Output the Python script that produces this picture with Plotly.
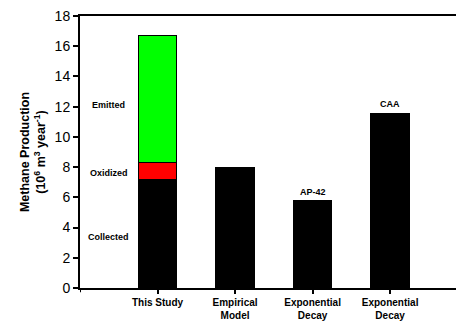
import plotly.graph_objects as go

# Methane production estimates (10^6 m^3 per year)
categories = ["This Study", "Empirical<br>Model", "Exponential<br>Decay<br>Model", "Exponential<br>Decay<br>Model"]
cat_pos = [1, 2, 3, 4]

study_collected = 7.15
study_oxidized = 1.14
study_emitted = 8.41

model_pos = [2, 3, 4]
model_values = [8.0, 5.76, 11.56]
model_labels = ["", "AP-42", "CAA"]

FONT = "Arial, Liberation Sans, sans-serif"
outline = dict(color="black", width=1)

fig = go.Figure()
fig.add_trace(go.Bar(x=[1], y=[study_collected], marker=dict(color="black", line=outline), width=0.5))
fig.add_trace(go.Bar(x=[1], y=[study_oxidized], marker=dict(color="#ff0000", line=outline), width=0.5))
fig.add_trace(go.Bar(x=[1], y=[study_emitted], marker=dict(color="#00ff00", line=outline), width=0.5))
fig.add_trace(go.Bar(x=model_pos, y=model_values, marker=dict(color="black", line=outline), width=0.5))

# component labels to the left of the stacked bar
for txt, yv in [("Emitted", 12.1), ("Oxidized", 7.6), ("Collected", 3.37)]:
    fig.add_annotation(x=0.37, y=yv, text="<b>%s</b>" % txt, showarrow=False,
                       font=dict(family=FONT, size=9, color="black"))

# model labels above bars
for xp, v, lab in zip(model_pos, model_values, model_labels):
    if lab:
        fig.add_annotation(x=xp, y=v, text="<b>%s</b>" % lab, showarrow=False, yanchor="bottom",
                           yshift=2, font=dict(family=FONT, size=9, color="black"))

# tick mark at the left end of the category axis
fig.add_shape(type="line", xref="x", yref="paper", x0=0, x1=0, y0=0, y1=-0.016,
              line=dict(color="black", width=2))

fig.update_layout(
    width=456, height=321,
    margin=dict(l=80, r=0, t=16, b=33),
    barmode="stack", showlegend=False,
    plot_bgcolor="white", paper_bgcolor="white",
    font=dict(family=FONT, color="black"),
    xaxis=dict(range=[0, 4.85], tickvals=cat_pos,
               ticktext=["<b>%s</b>" % c for c in categories],
               tickfont=dict(family=FONT, size=10, color="black"),
               showline=True, linecolor="black", linewidth=2, mirror=True,
               ticks="outside", ticklen=4, tickwidth=2, tickcolor="black",
               showgrid=False, zeroline=False, automargin=False),
    yaxis=dict(range=[0, 18], dtick=2, tickfont=dict(family=FONT, size=14, color="black"),
               showline=True, linecolor="black", linewidth=2,
               ticks="outside", ticklen=5, tickwidth=2, tickcolor="black",
               showgrid=False, zeroline=False, automargin=False,
               title=dict(text="<b>Methane Production<br>(10<sup>6</sup> m<sup>3</sup> year<sup>-1</sup>)</b>",
                          font=dict(family=FONT, size=12.5, color="black"), standoff=6)),
)

fig.write_html("out.html")
